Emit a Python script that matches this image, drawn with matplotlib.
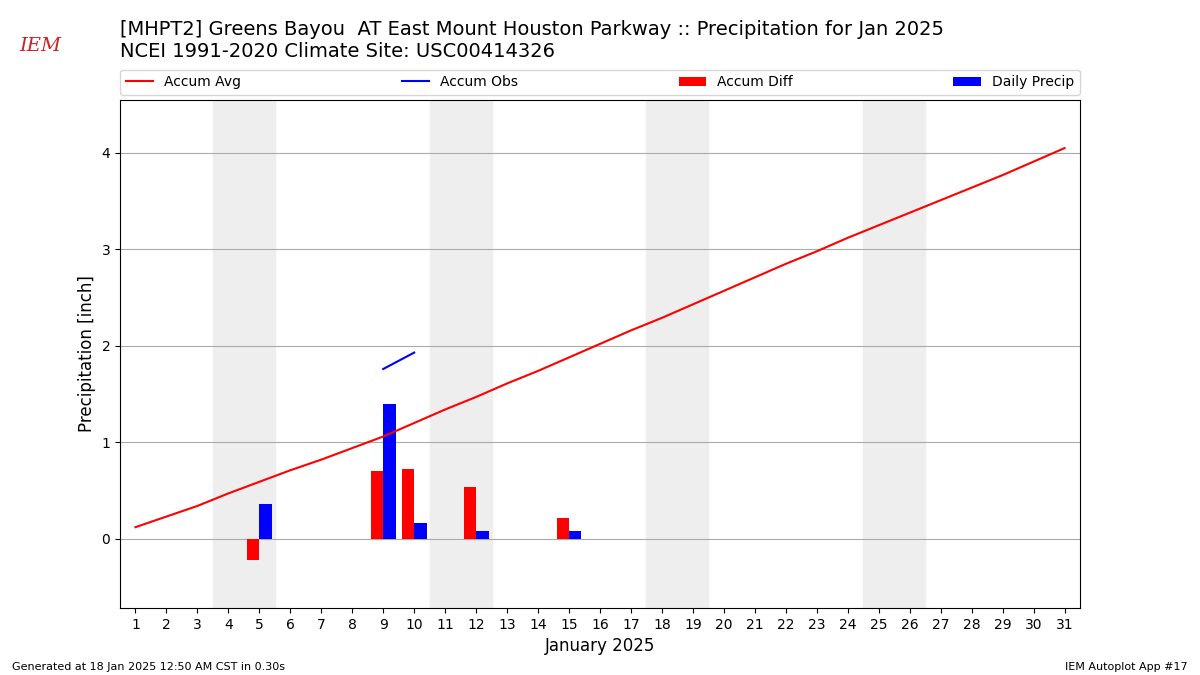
import numpy as np
import matplotlib.pyplot as plt

days = np.arange(1, 32)
accum_avg = [0.12, 0.23, 0.34, 0.47, 0.59, 0.71, 0.82, 0.94, 1.06, 1.20,
             1.34, 1.47, 1.61, 1.74, 1.88, 2.02, 2.16, 2.29, 2.43, 2.57,
             2.71, 2.85, 2.98, 3.12, 3.25, 3.38, 3.51, 3.64, 3.77, 3.91, 4.05]
precip_days = [5, 9, 10, 12, 15]
daily_precip = [0.36, 1.40, 0.16, 0.08, 0.08]
accum_diff = [-0.22, 0.70, 0.72, 0.54, 0.21]
accum_obs = [0.36, 1.76, 1.93, 2.01, 2.09]
weekends = [(4, 5), (11, 12), (18, 19), (25, 26)]

obs_line = np.full(len(days), np.nan)
for d, v in zip(precip_days, accum_obs):
    obs_line[d - 1] = v

fig = plt.figure(figsize=(12, 6.75), dpi=100)
ax = fig.add_axes([0.1, 0.099, 0.8, 0.753])

for a, b in weekends:
    ax.axvspan(a - 0.5, b + 0.5, color="#eeeeee", zorder=0)

ax.plot(days, accum_avg, color="r", label="Accum Avg", zorder=3)
ax.plot(days, obs_line, color="b", label="Accum Obs", zorder=3)
pd_ = np.array(precip_days)
ax.bar(pd_ - 0.2, accum_diff, width=0.4, color="r", label="Accum Diff", zorder=2)
ax.bar(pd_ + 0.2, daily_precip, width=0.4, color="b", label="Daily Precip", zorder=2)

ax.set_xlim(0.5, 31.5)
ax.set_ylim(-0.72, 4.55)
ax.set_xticks(days)
ax.set_yticks([0, 1, 2, 3, 4])
ax.grid(axis="y", color="#aaaaaa", zorder=1)
ax.set_axisbelow(True)
ax.set_xlabel("January 2025", fontsize=12)
ax.set_ylabel("Precipitation [inch]", fontsize=12)
ax.legend(bbox_to_anchor=(0, 1.01, 1, 0.05), loc="lower left", mode="expand",
          ncol=4, fontsize=10, borderaxespad=0)

fig.text(0.1, 0.97,
         "[MHPT2] Greens Bayou  AT East Mount Houston Parkway :: Precipitation for Jan 2025\n"
         "NCEI 1991-2020 Climate Site: USC00414326",
         fontsize=14, va="top", ha="left")
fig.text(0.016, 0.932, "IEM", color="#cc2222", fontsize=14, style="italic",
         family="serif", ha="left", va="center")
fig.text(0.01, 0.008, "Generated at 18 Jan 2025 12:50 AM CST in 0.30s", fontsize=8)
fig.text(0.99, 0.008, "IEM Autoplot App #17", fontsize=8, ha="right")

fig.savefig("out.png")
